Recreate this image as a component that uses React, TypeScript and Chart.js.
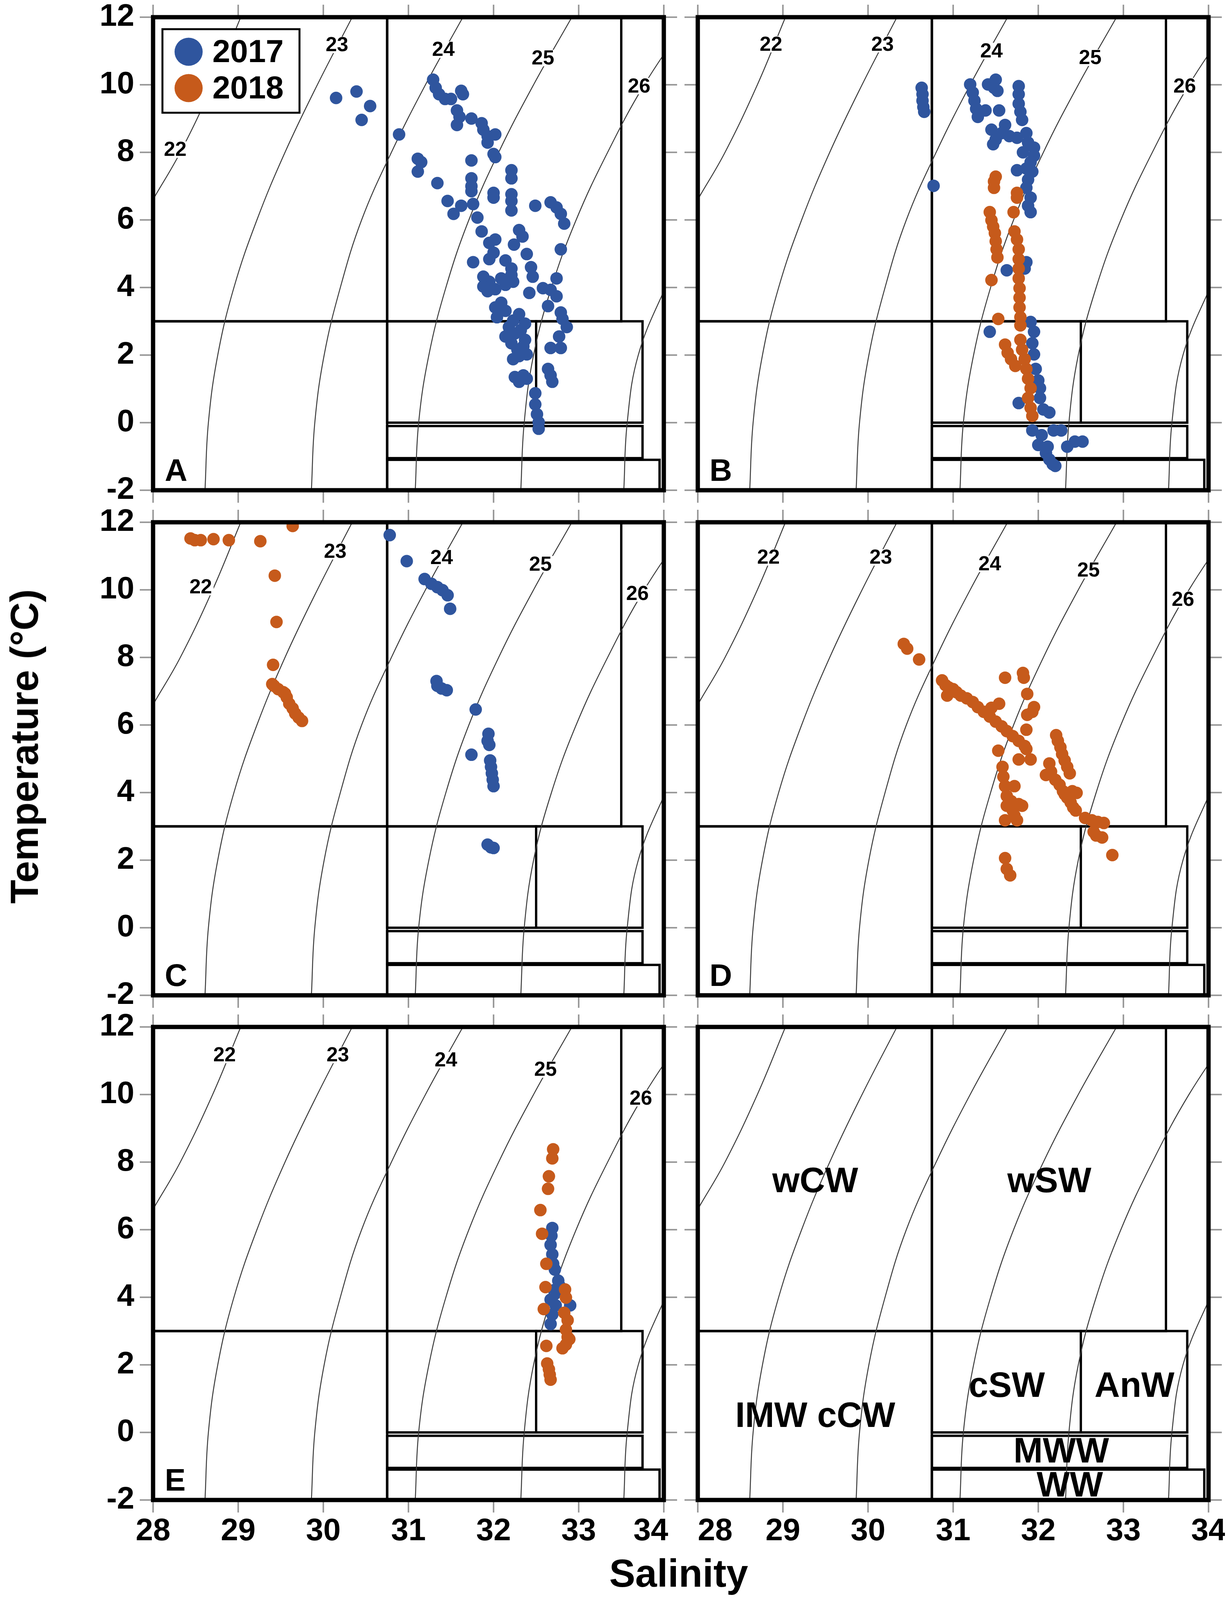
import { useEffect, useRef } from "react";
import { Chart, registerables } from "chart.js";

Chart.register(...registerables);

type Pt = [number, number]; // [salinity, temperature]

const FONT = "'Liberation Sans', Arial, Helvetica, sans-serif";
const BLUE = "#2f559e";
const ORANGE = "#c65a1b";

// ---- data ----
const tsA2017: Pt[] = [
    [30.15, 9.61], [30.39, 9.8], [30.55, 9.37], [30.45, 8.96], [30.89, 8.53],
    [31.29, 10.15], [31.32, 9.91], [31.36, 9.72], [31.43, 9.58], [31.5, 9.58], [31.62, 9.82], [31.64, 9.72],
    [31.57, 9.24], [31.6, 9.05], [31.57, 8.81], [31.74, 9.0], [31.86, 8.86], [31.88, 8.67], [31.93, 8.48],
    [32.02, 8.53], [31.93, 8.29], [32.0, 7.95], [32.02, 7.86],
    [31.11, 7.81], [31.15, 7.71], [31.11, 7.43], [31.34, 7.09],
    [31.74, 7.76], [31.74, 7.23], [31.74, 7.0], [31.74, 6.85],
    [31.46, 6.56], [31.53, 6.18], [31.62, 6.42], [31.76, 6.47], [31.81, 6.07],
    [32.0, 6.8], [32.0, 6.66],
    [32.21, 7.47], [32.21, 7.23], [32.21, 6.76], [32.21, 6.56], [32.21, 6.28],
    [32.49, 6.42], [32.67, 6.52], [32.74, 6.37], [32.79, 6.18], [32.83, 5.89],
    [32.79, 5.13], [32.74, 4.27], [32.67, 3.93], [32.58, 3.98], [32.74, 3.74], [32.64, 3.45], [32.79, 3.26],
    [32.81, 3.07], [32.86, 2.83], [32.77, 2.55], [32.67, 2.21], [32.79, 2.21], [32.64, 1.59], [32.67, 1.4], [32.69, 1.21],
    [32.3, 5.7], [32.34, 5.51], [32.24, 5.27], [32.39, 4.99], [32.44, 4.6], [32.46, 4.32], [32.42, 3.84],
    [31.86, 5.66], [31.95, 5.32], [32.02, 5.42], [32.0, 5.03], [31.95, 4.84], [31.76, 4.75],
    [32.14, 4.8], [32.21, 4.56], [32.21, 4.37], [32.23, 4.17],
    [31.88, 4.32], [31.95, 4.17], [31.88, 4.03], [31.93, 3.89], [32.02, 3.95], [32.09, 4.27], [32.14, 4.08],
    [32.02, 3.41], [32.09, 3.55], [32.14, 3.31], [32.04, 3.12],
    [32.18, 2.83], [32.25, 2.64], [32.32, 2.74], [32.37, 2.45], [32.14, 2.55], [32.21, 2.35], [32.28, 2.16],
    [32.35, 2.26], [32.39, 2.02], [32.23, 1.88], [32.3, 1.97], [32.37, 2.93], [32.23, 3.02], [32.3, 3.21],
    [32.25, 1.35], [32.3, 1.21], [32.35, 1.4], [32.39, 1.3],
    [32.49, 0.87], [32.49, 0.54], [32.51, 0.25], [32.53, 0.01], [32.53, -0.18],
];

const tsB2017: Pt[] = [
    [30.63, 9.91], [30.64, 9.72], [30.64, 9.53], [30.65, 9.34], [30.66, 9.2],
    [30.77, 7.01],
    [31.2, 10.01], [31.23, 9.77], [31.25, 9.53], [31.27, 9.29], [31.29, 9.05],
    [31.41, 10.01], [31.5, 10.15], [31.48, 9.91], [31.52, 9.82], [31.38, 9.24], [31.54, 9.24],
    [31.77, 9.96], [31.77, 9.72], [31.77, 9.44], [31.79, 9.2], [31.81, 8.96],
    [31.61, 8.81], [31.45, 8.67], [31.5, 8.38], [31.47, 8.24], [31.57, 8.57], [31.66, 8.48], [31.75, 8.43],
    [31.86, 8.57], [31.88, 8.29], [31.95, 8.14], [31.95, 7.9], [31.91, 7.71], [31.86, 7.52], [31.93, 7.43],
    [31.75, 7.47], [31.82, 8.0], [31.88, 7.19], [31.86, 6.95], [31.91, 6.66], [31.88, 6.42], [31.91, 6.23],
    [31.86, 4.75], [31.84, 4.56], [31.63, 4.51],
    [31.43, 2.69],
    [31.91, 2.98], [31.95, 2.69], [31.93, 2.35], [31.95, 2.02], [31.97, 1.59], [32.0, 1.25], [32.02, 1.02],
    [32.02, 0.73], [32.06, 0.39], [32.13, 0.3], [31.77, 0.58],
    [31.93, -0.23], [32.04, -0.37], [32.18, -0.23], [32.27, -0.23], [32.43, -0.56], [32.52, -0.56],
    [32.34, -0.71], [32.0, -0.66], [32.09, -0.9], [32.13, -1.09], [32.2, -1.28], [32.17, -1.23], [32.11, -0.71],
];

const tsB2018: Pt[] = [
    [31.5, 7.28], [31.48, 7.14], [31.48, 6.95], [31.75, 6.8], [31.75, 6.66], [31.71, 6.23],
    [31.43, 6.23], [31.45, 5.99], [31.47, 5.8], [31.49, 5.61], [31.5, 5.37], [31.51, 5.13], [31.52, 4.89],
    [31.45, 4.22],
    [31.72, 5.66], [31.75, 5.42], [31.77, 5.13], [31.77, 4.84], [31.77, 4.56], [31.77, 4.27], [31.78, 3.98],
    [31.78, 3.7], [31.78, 3.41], [31.79, 3.12], [31.79, 2.88],
    [31.53, 3.07],
    [31.61, 2.31], [31.64, 2.07], [31.68, 1.88], [31.73, 1.68], [31.79, 2.45], [31.81, 2.16], [31.84, 1.88],
    [31.86, 1.59], [31.88, 1.3], [31.91, 1.02], [31.88, 0.73], [31.91, 0.44], [31.93, 0.2],
];

const tsC2017: Pt[] = [
    [30.78, 11.62], [30.98, 10.85], [31.19, 10.32], [31.27, 10.18], [31.34, 10.08], [31.4, 9.99],
    [31.46, 9.84], [31.49, 9.44],
    [31.33, 7.3], [31.34, 7.16], [31.39, 7.08], [31.45, 7.03],
    [31.79, 6.46], [31.74, 5.12], [31.94, 5.74], [31.93, 5.53], [31.95, 5.41], [31.96, 4.95], [31.97, 4.76],
    [31.98, 4.57], [31.99, 4.38], [32.0, 4.19],
    [31.93, 2.46], [31.97, 2.38], [32.0, 2.36],
];

const tsC2018: Pt[] = [
    [28.44, 11.52], [28.49, 11.47], [28.56, 11.47], [28.71, 11.5], [28.89, 11.47], [29.26, 11.44],
    [29.64, 11.89], [29.43, 10.42], [29.45, 9.05], [29.41, 7.78],
    [29.4, 7.21], [29.42, 7.16], [29.47, 7.06], [29.53, 6.97], [29.55, 6.93], [29.57, 6.82], [29.6, 6.63],
    [29.64, 6.49], [29.67, 6.34], [29.71, 6.22], [29.75, 6.12],
];

const tsD2018: Pt[] = [
    [30.42, 8.4], [30.46, 8.26], [30.6, 7.94],
    [30.87, 7.32], [30.91, 7.18], [30.95, 7.11], [31.0, 7.06], [31.04, 6.97], [30.93, 6.87], [31.09, 6.87],
    [31.16, 6.79], [31.23, 6.68], [31.29, 6.53], [31.36, 6.39], [31.43, 6.25], [31.5, 6.1], [31.57, 5.96],
    [31.63, 5.82], [31.7, 5.67], [31.77, 5.53], [31.84, 5.38], [31.86, 5.29],
    [31.54, 6.63], [31.45, 6.51],
    [31.61, 7.4], [31.82, 7.54], [31.83, 7.4], [31.87, 6.92], [31.95, 6.53], [31.93, 6.39], [31.87, 6.3],
    [31.86, 5.86],
    [31.53, 5.24], [31.77, 4.98], [31.91, 4.98],
    [31.58, 4.76], [31.59, 4.47], [31.61, 4.19], [31.72, 4.19], [31.63, 3.9], [31.68, 3.75], [31.77, 3.66],
    [31.81, 3.61], [31.7, 3.47], [31.72, 3.32], [31.61, 3.18], [31.75, 3.18], [31.63, 3.61],
    [32.21, 5.7], [32.23, 5.53], [32.26, 5.34], [32.28, 5.14], [32.31, 4.95], [32.34, 4.76], [32.13, 4.86],
    [32.09, 4.52], [32.15, 4.62], [32.37, 4.57], [32.2, 4.38], [32.25, 4.23], [32.29, 4.04], [32.31, 3.95],
    [32.4, 4.04], [32.34, 3.85], [32.38, 3.71], [32.41, 3.56], [32.44, 3.47], [32.45, 3.99],
    [32.55, 3.25], [32.63, 3.18], [32.7, 3.13], [32.77, 3.1], [32.65, 2.84], [32.68, 2.73], [32.75, 2.67],
    [32.87, 2.15],
    [31.61, 2.06], [31.63, 1.74], [31.67, 1.55],
];

const tsE2017: Pt[] = [
    [32.69, 6.05], [32.68, 5.82], [32.67, 5.55], [32.69, 5.27], [32.7, 4.99], [32.72, 4.82], [32.76, 4.49],
    [32.71, 4.21], [32.67, 3.93], [32.73, 3.76], [32.9, 3.76], [32.69, 3.49], [32.67, 3.21], [32.72, 4.1],
    [32.78, 4.32],
];

const tsE2018: Pt[] = [
    [32.7, 8.38], [32.69, 8.11], [32.65, 7.58], [32.64, 7.21], [32.55, 6.58], [32.57, 5.88], [32.62, 4.99],
    [32.61, 4.3], [32.59, 3.65], [32.62, 2.56], [32.63, 2.04], [32.65, 1.87], [32.66, 1.71], [32.67, 1.56],
    [32.84, 4.23], [32.85, 3.99], [32.83, 3.54], [32.87, 3.32], [32.85, 3.04], [32.87, 2.82], [32.85, 2.6],
    [32.81, 2.49], [32.89, 2.76],
];

// sigma-t isopycnals, salinity read at these temperatures
const contourTemps = [-2, 0, 2, 4, 6, 8, 10, 12];
const sigma22 = [27.3, 27.33, 27.43, 27.6, 27.88, 28.32, 28.7, 29.03];
const sigma23 = [28.61, 28.65, 28.76, 28.95, 29.22, 29.55, 29.93, 30.34];
const sigma24 = [29.86, 29.9, 30.01, 30.2, 30.45, 30.8, 31.2, 31.64];
const sigma25 = [31.08, 31.12, 31.24, 31.44, 31.71, 32.06, 32.47, 32.92];
const sigma26 = [32.32, 32.36, 32.47, 32.68, 32.97, 33.34, 33.77, 34.3];
const sigma27 = [33.53, 33.57, 33.7, 34.02, 34.4];
const isopycnals = [sigma22, sigma23, sigma24, sigma25, sigma26, sigma27];
const isopycnalNames = ["22", "23", "24", "25", "26"];

// water mass boundaries: salinity from/to, temperature from/to
const waterMassNames = ["wCW", "wSW", "IMW cCW", "cSW", "AnW", "MWW", "WW"];
const waterMassSal: Pt[] = [[28, 30.75], [30.75, 33.5], [28, 30.75], [30.75, 32.5], [32.5, 33.75], [30.75, 33.75], [30.75, 33.95]];
const waterMassTemp: Pt[] = [[3, 12], [3, 12], [-2, 3], [0, 3], [0, 3], [-1.05, -0.1], [-2, -1.1]];
// where the names sit in panel F
const waterMassLabelAt: Pt[] = [[29.38, 7.44], [32.13, 7.44], [29.38, 0.5], [31.63, 1.39], [33.13, 1.39], [32.27, -0.56], [32.37, -1.56]];

const years = ["2017", "2018"];

// ---- layout: designed for 3150x4404, squeezed vertically if the window is shorter ----
const winH = typeof window !== "undefined" && window.innerHeight > 1000 ? window.innerHeight : 4404;
const KY = Math.min(1, winH / 4404);
const PAGE_H = Math.round(4404 * KY);
const COL_X = [392, 1787];
const ROW_Y = [47, 1437, 2827].map((v) => Math.round(v * KY));
const PLOT_W = 1308;
const PLOT_H = Math.round(1302 * KY);
const PAD = 42;
const X_AXIS_H = 150;

interface PanelDef {
    letter: string;
    col: number;
    row: number;
    y2017: Pt[];
    y2018: Pt[];
    labelAt: Pt[]; // isopycnal label spots 22..26
    legend?: boolean;
    regions?: boolean;
}

const panels: PanelDef[] = [
    { letter: "A", col: 0, row: 0, y2017: tsA2017, y2018: [], legend: true,
        labelAt: [[28.26, 8.08], [30.16, 11.18], [31.41, 11.04], [32.58, 10.79], [33.71, 9.96]] },
    { letter: "B", col: 1, row: 0, y2017: tsB2017, y2018: tsB2018,
        labelAt: [[28.86, 11.2], [30.17, 11.2], [31.45, 11.0], [32.61, 10.8], [33.72, 9.96]] },
    { letter: "C", col: 0, row: 1, y2017: tsC2017, y2018: tsC2018,
        labelAt: [[28.56, 10.08], [30.14, 11.14], [31.39, 10.95], [32.55, 10.76], [33.69, 9.89]] },
    { letter: "D", col: 1, row: 1, y2017: [], y2018: tsD2018,
        labelAt: [[28.83, 10.96], [30.15, 10.96], [31.43, 10.77], [32.59, 10.58], [33.7, 9.72]] },
    { letter: "E", col: 0, row: 2, y2017: tsE2017, y2018: tsE2018,
        labelAt: [[28.84, 11.17], [30.17, 11.17], [31.44, 11.02], [32.61, 10.74], [33.73, 9.89]] },
    { letter: "", col: 1, row: 2, y2017: [], y2018: [], labelAt: [], regions: true },
];

const tsDecor = {
    id: "tsDecor",
    beforeDatasetsDraw(chart: any) {
        const { ctx, scales: { x, y } } = chart;
        ctx.save();
        ctx.strokeStyle = "#000";
        ctx.lineWidth = 6;
        waterMassSal.forEach(([s0, s1], i) => {
            const [t0, t1] = waterMassTemp[i];
            const l = x.getPixelForValue(s0), r = x.getPixelForValue(s1);
            const top = y.getPixelForValue(t1), bot = y.getPixelForValue(t0);
            ctx.strokeRect(l, top, r - l, bot - top);
        });
        ctx.restore();
    },
    afterDatasetsDraw(chart: any, _args: any, opts: any) {
        const { ctx, chartArea: a, scales: { x, y } } = chart;
        const p: PanelDef = opts.panel;
        ctx.save();

        // isopycnal labels
        ctx.font = `bold 52px ${FONT}`;
        ctx.textAlign = "center";
        ctx.textBaseline = "middle";
        p.labelAt.forEach(([s, t], i) => {
            const px = x.getPixelForValue(s), py = y.getPixelForValue(t);
            const w = ctx.measureText(isopycnalNames[i]).width;
            ctx.fillStyle = "#fff";
            ctx.fillRect(px - w / 2 - 4, py - 21, w + 8, 42);
            ctx.fillStyle = "#000";
            ctx.fillText(isopycnalNames[i], px, py + 2);
        });

        // water mass names
        if (p.regions) {
            ctx.font = `bold 90px ${FONT}`;
            ctx.fillStyle = "#000";
            waterMassLabelAt.forEach(([s, t], i) => {
                ctx.fillText(waterMassNames[i], x.getPixelForValue(s), y.getPixelForValue(t) + 4);
            });
        }

        // legend
        if (p.legend) {
            const lx = a.left + 24, ly = a.top + 33 * KY;
            const lh = 230 * KY;
            ctx.fillStyle = "#fff";
            ctx.fillRect(lx, ly, 351, lh);
            ctx.lineWidth = 5;
            ctx.strokeStyle = "#000";
            ctx.strokeRect(lx, ly, 351, lh);
            [BLUE, ORANGE].forEach((c, i) => {
                const cy = ly + lh * (0.27 + i * 0.435);
                ctx.fillStyle = c;
                ctx.beginPath();
                ctx.arc(lx + 67, cy, 36, 0, Math.PI * 2);
                ctx.fill();
                ctx.fillStyle = "#000";
                ctx.font = `bold 82px ${FONT}`;
                ctx.textAlign = "left";
                ctx.fillText(years[i], lx + 128, cy + 4);
            });
        }

        // panel letter
        if (p.letter) {
            ctx.font = `bold 80px ${FONT}`;
            ctx.textAlign = "left";
            ctx.textBaseline = "alphabetic";
            ctx.fillStyle = "#000";
            ctx.fillText(p.letter, a.left + 30, a.bottom - 26 * KY);
        }

        // tick marks on every side
        ctx.strokeStyle = "#9a9a9a";
        ctx.lineWidth = 4;
        ctx.beginPath();
        x.ticks.forEach((t: any) => {
            const px = x.getPixelForValue(t.value);
            ctx.moveTo(px, a.top - 32); ctx.lineTo(px, a.top - 4);
            ctx.moveTo(px, a.bottom + 4); ctx.lineTo(px, a.bottom + 32);
        });
        y.ticks.forEach((t: any) => {
            const py = y.getPixelForValue(t.value);
            ctx.moveTo(a.left - 34, py); ctx.lineTo(a.left - 4, py);
            ctx.moveTo(a.right + 4, py); ctx.lineTo(a.right + 34, py);
        });
        ctx.stroke();

        // frame
        ctx.strokeStyle = "#000";
        ctx.lineWidth = 11;
        ctx.strokeRect(a.left, a.top, a.right - a.left, a.bottom - a.top);
        ctx.restore();
    },
};

function TSPanel({ panel }: { panel: PanelDef }) {
    const canvasRef = useRef<HTMLCanvasElement>(null);
    const showY = panel.col === 0;
    const showX = panel.row === 2;
    const left = showY ? 0 : COL_X[panel.col] - PAD;
    const top = ROW_Y[panel.row] - PAD;
    const width = (showY ? COL_X[0] : PAD) + PLOT_W + (showY ? 40 : PAD);
    const height = PAD + PLOT_H + (showX ? X_AXIS_H : PAD);

    useEffect(() => {
        if (!canvasRef.current) return;
        const toXY = (pts: Pt[]) => pts.map(([s, t]) => ({ x: s, y: t }));
        const tickFont = { family: FONT, size: 80, weight: "bold" as const };
        // the neighbouring panels share the gap: 34 sits left of its tick, 28 right of it
        const salLabel = (v: number) => {
            if (panel.col === 0 && v === 34) return "34   ";
            if (panel.col === 1 && v === 28) return "    28";
            return String(v);
        };

        const chart = new Chart(canvasRef.current, {
            type: "scatter",
            data: {
                datasets: [
                    { label: years[1], data: toXY(panel.y2018), backgroundColor: ORANGE, pointRadius: 16, borderWidth: 0, order: 0 },
                    { label: years[0], data: toXY(panel.y2017), backgroundColor: BLUE, pointRadius: 16, borderWidth: 0, order: 1 },
                    ...isopycnals.map((sal) => ({
                        data: sal.map((s, i) => ({ x: s, y: contourTemps[i] })),
                        showLine: true,
                        pointRadius: 0,
                        borderColor: "#3c3c3c",
                        borderWidth: 2.5,
                        tension: 0.4,
                        order: 5,
                    })),
                ],
            },
            options: {
                responsive: false,
                devicePixelRatio: 1,
                animation: false,
                events: [],
                layout: {
                    padding: { left: showY ? 0 : PAD, right: showY ? 40 : PAD, top: PAD, bottom: showX ? 0 : PAD },
                },
                plugins: {
                    legend: { display: false },
                    tooltip: { enabled: false },
                    tsDecor: { panel },
                } as any,
                scales: {
                    x: {
                        type: "linear",
                        min: 28,
                        max: 34,
                        display: showX,
                        ticks: {
                            stepSize: 1, font: tickFont, color: "#000", padding: 33, maxRotation: 0, autoSkip: false,
                            callback: (v: any) => salLabel(Number(v)),
                        },
                        grid: { display: false, drawTicks: false },
                        border: { display: false },
                        afterFit: (s: any) => {
                            if (showX) s.height = X_AXIS_H;
                            s.paddingLeft = 0; s.paddingRight = 0;
                        },
                    },
                    y: {
                        type: "linear",
                        min: -2,
                        max: 12,
                        display: showY,
                        ticks: { stepSize: 2, font: tickFont, color: "#000", padding: 48, autoSkip: false },
                        grid: { display: false, drawTicks: false },
                        border: { display: false },
                        afterFit: (s: any) => {
                            if (showY) s.width = COL_X[0];
                            s.paddingTop = 0; s.paddingBottom = 0;
                        },
                    },
                },
            },
            plugins: [tsDecor],
        });

        return () => chart.destroy();
    }, [panel, showX, showY]);

    return (
        <div style={{ position: "absolute", left, top, width, height }}>
            <canvas ref={canvasRef} width={width} height={height} style={{ display: "block", width, height }} />
        </div>
    );
}

export default function App() {
    return (
        <div style={{ position: "absolute", left: 0, top: 0, width: 3150, height: PAGE_H, background: "#fff", fontFamily: FONT, overflow: "hidden" }}>
            {panels.map((p, i) => <TSPanel key={i} panel={p} />)}
            <div style={{
                position: "absolute", left: 62, top: Math.round(2055 * KY), transform: "translate(-50%, -50%) rotate(-90deg)",
                fontSize: 100, fontWeight: "bold", whiteSpace: "nowrap", lineHeight: 1,
            }}>
                Temperature (°C)
            </div>
            <div style={{
                position: "absolute", left: 1738, top: Math.round(4330 * KY), transform: "translate(-50%, -50%)",
                fontSize: 100, fontWeight: "bold", whiteSpace: "nowrap", lineHeight: 1,
            }}>
                Salinity
            </div>
        </div>
    );
}
